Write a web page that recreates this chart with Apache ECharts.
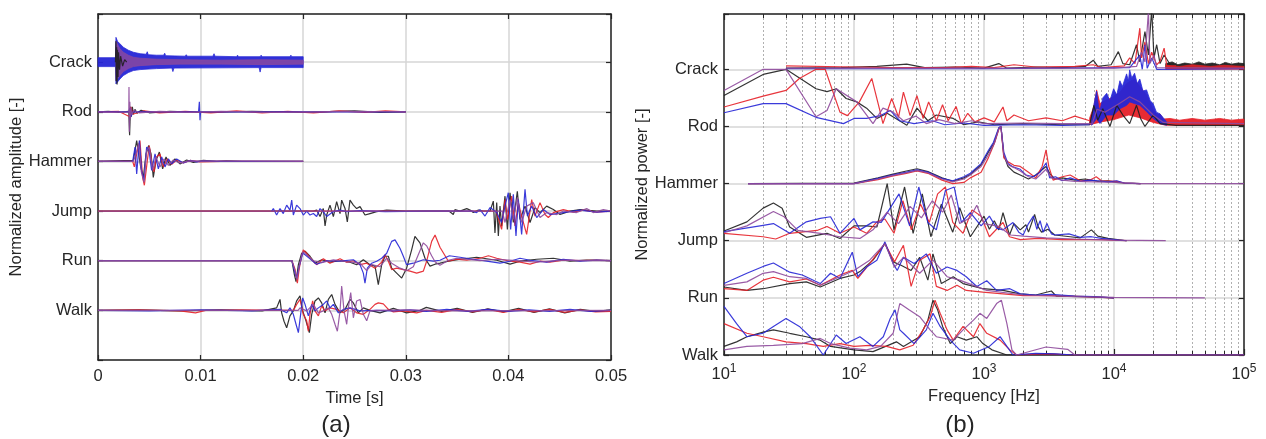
<!DOCTYPE html>
<html><head><meta charset="utf-8">
<script src="https://cdn.jsdelivr.net/npm/echarts/dist/echarts.min.js"></script>
<style>html,body{margin:0;padding:0;background:#fff}#c{width:1266px;height:439px}</style>
</head><body><div id="c"></div>
<script>
// ---------- categories & tick labels ----------
const ampCats = ['Walk','Run','Jump','Hammer','Rod','Crack'];   // left panel, baselines 1..6
const powCats = ['Walk','Run','Jump','Hammer','Rod','Crack'];   // right panel, baselines 0..5
const timeTicks = ['0','0.01','0.02','0.03','0.04','0.05'];
const freqExp = ['1','2','3','4','5'];

// ---------- (a) time signals: [time s, amplitude relative to baseline] ----------
const tCrackUp = [[0,0.09],[0.0017,0.09],[0.00175,0.5],[0.0019,0.42],[0.00214,0.37],[0.00247,0.3],[0.00296,0.24],[0.00344,0.2],[0.0041,0.17],[0.0047,0.16],[0.0048,0.21],[0.0049,0.15],[0.0057,0.14],[0.0064,0.14],[0.0065,0.18],[0.0066,0.13],[0.0085,0.12],[0.0086,0.15],[0.0087,0.12],[0.0112,0.12],[0.01131,0.17],[0.0114,0.12],[0.0135,0.11],[0.0136,0.14],[0.0137,0.11],[0.0158,0.11],[0.0159,0.14],[0.016,0.11],[0.0187,0.11],[0.0188,0.14],[0.0189,0.11],[0.02,0.11]];
const tCrackLo = [[0,-0.09],[0.0017,-0.09],[0.00175,-0.44],[0.0019,-0.4],[0.00214,-0.34],[0.00247,-0.27],[0.00296,-0.21],[0.00344,-0.17],[0.0041,-0.15],[0.0057,-0.13],[0.0072,-0.12],[0.0073,-0.19],[0.0074,-0.12],[0.0157,-0.11],[0.0158,-0.2],[0.0159,-0.11],[0.02,-0.11]];
const tCrackInUp = [[0.00175,0.42],[0.00214,0.27],[0.00247,0.2],[0.00296,0.14],[0.00344,0.1],[0.0041,0.08],[0.0057,0.06],[0.008,0.05],[0.012,0.04],[0.016,0.05],[0.02,0.04]];
const tCrackInLo = [[0.00175,-0.38],[0.00214,-0.27],[0.00247,-0.19],[0.00296,-0.13],[0.00344,-0.09],[0.0041,-0.07],[0.0057,-0.05],[0.008,-0.04],[0.012,-0.04],[0.016,-0.05],[0.02,-0.04]];
const tCrackBlack = [[0.0017,0],[0.00175,0.42],[0.00178,-0.38],[0.00182,0.3],[0.00186,-0.45],[0.0019,0.25],[0.00195,-0.3],[0.002,0.2],[0.0021,-0.15],[0.0022,0.12],[0.0024,-0.08],[0.0026,0.05],[0.0028,0]];

const tRodBlack = [[0,0],[0.001,0.01],[0.002,-0.01],[0.003,0.01],[0.00305,0.05],[0.00308,-0.47],[0.00312,-0.2],[0.00318,0.1],[0.00325,-0.1],[0.00335,0.1],[0.00345,-0.05],[0.0036,0.05],[0.0038,-0.03],[0.0042,0.03],[0.005,-0.02],[0.007,0.01],[0.01,-0.01],[0.015,0.01],[0.02,-0.01],[0.025,0.02],[0.0275,-0.01],[0.03,0]];
const tRodRed = [[0,0],[0.002,0.01],[0.0031,-0.1],[0.0032,0.1],[0.0034,-0.05],[0.0045,0.02],[0.006,-0.02],[0.0085,0.01],[0.011,-0.02],[0.0135,0.02],[0.016,-0.02],[0.0185,0.01],[0.021,-0.02],[0.0235,0.02],[0.026,-0.01],[0.028,0.02],[0.03,0]];
const tRodBlue = [[0,0],[0.003,0],[0.0031,0.08],[0.0032,-0.1],[0.0034,0],[0.0098,0],[0.00988,0.2],[0.00994,-0.17],[0.01,0],[0.03,0]];
const tRodPurple = [[0,0],[0.0015,-0.01],[0.003,0],[0.00302,0.5],[0.00306,-0.4],[0.0031,0.2],[0.00316,-0.15],[0.00322,0.08],[0.0033,-0.06],[0.0035,0.03],[0.004,-0.02],[0.006,0.01],[0.009,-0.01],[0.012,0.01],[0.018,-0.01],[0.024,0.01],[0.03,0]];

const tHammerBlack = [[0,0],[0.00344,0.02],[0.00377,0.42],[0.00393,0.46],[0.00416,-0.11],[0.00442,-0.32],[0.00468,0.15],[0.00494,0.32],[0.00517,0.15],[0.00539,-0.32],[0.00565,0.02],[0.00598,0.19],[0.0063,-0.15],[0.00663,0.09],[0.00702,-0.08],[0.0075,0.05],[0.00799,-0.05],[0.00864,0.03],[0.00929,-0.02],[0.01027,0.02],[0.01157,0],[0.0125,0.01],[0.014,0],[0.02,0]];
const tHammerRed = [[0,0],[0.00338,0],[0.00354,-0.11],[0.00383,0.22],[0.00409,0.42],[0.00435,-0.32],[0.00452,-0.48],[0.00481,0.02],[0.005,0.32],[0.00526,-0.05],[0.00546,-0.21],[0.00572,0.09],[0.00604,0.15],[0.00637,-0.11],[0.00676,0.05],[0.00718,-0.06],[0.00767,0.03],[0.00832,-0.03],[0.00897,0.02],[0.00994,-0.01],[0.012,0],[0.02,0]];
const tHammerBlue = [[0,0],[0.00338,0],[0.00344,0],[0.00361,0.29],[0.00377,-0.25],[0.00403,0.42],[0.00425,-0.18],[0.00448,-0.38],[0.00474,0.29],[0.00497,0.22],[0.00523,-0.18],[0.00556,0.15],[0.00588,-0.15],[0.00621,0.09],[0.00653,-0.11],[0.00686,0.05],[0.00718,-0.05],[0.00767,0.05],[0.00832,-0.03],[0.00897,0.02],[0.00962,-0.01],[0.01027,0.01],[0.01157,0],[0.02,0]];
const tHammerPurple = [[0,0],[0.00344,0],[0.0037,0.15],[0.00396,0.36],[0.00422,-0.21],[0.00448,-0.42],[0.00474,0.22],[0.005,0.29],[0.00533,-0.18],[0.00565,0.09],[0.00604,-0.11],[0.00643,0.05],[0.00686,-0.08],[0.00734,0.03],[0.00799,-0.03],[0.00897,0.01],[0.02,0]];

const tJumpBlack = [[0,0],[0.021,0],[0.02131,0.02],[0.02164,-0.11],[0.02196,0.05],[0.02213,-0.3],[0.02229,-0.08],[0.02261,0.12],[0.02294,-0.11],[0.02326,0.19],[0.02359,-0.05],[0.02375,0.22],[0.02408,0.05],[0.0243,-0.22],[0.02456,0.22],[0.02489,0.12],[0.02521,0.05],[0.02554,0.09],[0.02602,-0.08],[0.02651,-0.05],[0.02716,-0.01],[0.02814,0.02],[0.03,0],[0.0342,0],[0.03463,-0.07],[0.03479,0.03],[0.03528,0],[0.03594,0.05],[0.03626,0.02],[0.03658,-0.03],[0.03707,0.02],[0.03756,0],[0.03821,0],[0.03853,0.2],[0.03869,-0.44],[0.03886,0.17],[0.03902,-0.5],[0.03918,0.1],[0.03934,-0.3],[0.03967,0.3],[0.0399,-0.37],[0.04016,0.37],[0.04048,-0.23],[0.04087,0.4],[0.04113,-0.17],[0.04162,0.1],[0.04211,-0.23],[0.04259,0.07],[0.04308,-0.03],[0.04373,0.1],[0.04438,0.03],[0.04503,-0.07],[0.046,0],[0.04698,0.03],[0.0486,0],[0.05,0]];
const tJumpRed = [[0,0],[0.0388,0],[0.03886,-0.03],[0.03934,-0.37],[0.03967,0.23],[0.0399,-0.17],[0.04032,0.3],[0.04064,-0.3],[0.04097,0.17],[0.04129,-0.1],[0.04178,-0.47],[0.04227,0.23],[0.04259,-0.1],[0.04308,0.17],[0.04357,-0.07],[0.04389,-0.13],[0.04438,-0.03],[0.04535,0.03],[0.04633,-0.02],[0.0473,0.02],[0.0486,-0.02],[0.05,0]];
const tJumpBlue = [[0.01693,0],[0.01709,0.05],[0.01741,-0.08],[0.01774,0.05],[0.01806,-0.05],[0.01839,0.12],[0.01871,0.02],[0.01888,0.22],[0.01904,-0.08],[0.01936,0.12],[0.01969,0.05],[0.02001,-0.08],[0.02034,0],[0.02066,-0.08],[0.02099,-0.05],[0.02131,-0.11],[0.02164,0.05],[0.02196,-0.01],[0.02229,-0.11],[0.02294,-0.01],[0.02359,0.02],[0.02424,-0.01],[0.0255,0.01],[0.028,-0.01],[0.032,0],[0.0365,0],[0.0369,-0.03],[0.03723,0.03],[0.03772,-0.1],[0.03821,0.07],[0.03886,-0.03],[0.03934,-0.23],[0.03967,0.1],[0.03999,0.37],[0.04022,-0.37],[0.04048,0.34],[0.04074,-0.5],[0.04097,0.23],[0.04129,-0.47],[0.04162,0.44],[0.04185,-0.1],[0.04227,0.1],[0.04276,-0.13],[0.04341,0.03],[0.04405,-0.07],[0.04535,-0.03],[0.04698,0.02],[0.0486,-0.02],[0.05,0]];
const tJumpPurple = [[0,0],[0.0394,0],[0.03967,-0.23],[0.04016,0.23],[0.04048,-0.17],[0.04087,0.27],[0.04129,-0.23],[0.04178,0.1],[0.04243,0.17],[0.04308,-0.13],[0.04373,-0.03],[0.0447,-0.07],[0.04535,0],[0.04665,-0.03],[0.04763,0.05],[0.04828,-0.03],[0.04925,0.03],[0.05,0]];

const tRunBlack = [[0,0],[0.0189,0],[0.01904,-0.01],[0.01914,-0.28],[0.0193,-0.42],[0.01953,-0.08],[0.01985,0.15],[0.02018,0.19],[0.02066,0.09],[0.02115,-0.05],[0.0218,0.02],[0.02261,-0.03],[0.02359,0],[0.02456,-0.03],[0.02521,-0.08],[0.02586,0.02],[0.02651,-0.08],[0.027,-0.11],[0.02732,-0.48],[0.02765,-0.08],[0.02797,0.09],[0.0283,0.09],[0.02862,-0.15],[0.02911,-0.25],[0.0296,-0.35],[0.03008,-0.15],[0.03057,0.22],[0.03089,0.49],[0.03138,0.36],[0.03187,0.05],[0.03236,-0.11],[0.03285,-0.07],[0.03333,-0.05],[0.03415,-0.01],[0.0353,0.03],[0.0369,0.07],[0.03886,0.01],[0.04016,-0.07],[0.04113,-0.01],[0.04276,0.03],[0.04438,0.05],[0.046,-0.01],[0.04763,0.01],[0.05,0]];
const tRunRed = [[0,0],[0.0189,0],[0.0192,-0.17],[0.01943,-0.45],[0.01962,-0.15],[0.01985,0.09],[0.02001,0.22],[0.02034,0.15],[0.02083,0.02],[0.02131,-0.08],[0.02196,0.04],[0.02261,-0.05],[0.02359,0.04],[0.02424,-0.03],[0.02489,0],[0.02554,-0.08],[0.02619,-0.05],[0.027,-0.15],[0.02765,-0.03],[0.02797,0.12],[0.0283,-0.01],[0.02862,-0.18],[0.02911,-0.15],[0.02976,-0.18],[0.03041,-0.21],[0.03106,-0.25],[0.03171,-0.21],[0.03203,-0.01],[0.03252,0.39],[0.03285,0.52],[0.03333,0.27],[0.03415,-0.01],[0.03496,0.03],[0.03594,0.01],[0.03723,0.05],[0.03805,0.1],[0.03886,0.05],[0.04016,-0.01],[0.04113,-0.03],[0.04211,-0.07],[0.04308,-0.01],[0.04405,-0.03],[0.04535,0.01],[0.04698,0],[0.0486,0.01],[0.05,0]];
const tRunBlue = [[0,0],[0.0189,0],[0.0192,-0.25],[0.01936,-0.35],[0.01962,-0.11],[0.01995,0.15],[0.02018,0.12],[0.02066,0.04],[0.02131,-0.07],[0.02229,0],[0.02359,-0.01],[0.02489,0.02],[0.02554,-0.08],[0.02586,-0.25],[0.02602,-0.45],[0.02625,-0.15],[0.02667,-0.05],[0.02716,-0.01],[0.02765,0.05],[0.02814,0.15],[0.02862,0.39],[0.02895,0.42],[0.02943,0.25],[0.02976,0.09],[0.03008,-0.08],[0.03073,-0.05],[0.03171,0.02],[0.03268,-0.01],[0.03333,0.01],[0.03425,0.1],[0.03528,0.07],[0.03658,0.03],[0.03788,-0.01],[0.03918,-0.05],[0.04016,-0.01],[0.04113,0.05],[0.04211,0.01],[0.04373,-0.03],[0.04535,0.03],[0.04698,-0.01],[0.0486,0.01],[0.05,0]];
const tRunPurple = [[0,0],[0.0189,0],[0.0192,-0.2],[0.0194,-0.38],[0.01962,-0.1],[0.01995,0.18],[0.02034,0.12],[0.02099,0],[0.0218,-0.04],[0.02294,0.02],[0.02424,-0.02],[0.02554,-0.05],[0.02619,-0.2],[0.02667,-0.08],[0.02749,-0.12],[0.02814,0.05],[0.02862,-0.05],[0.02943,-0.15],[0.03008,-0.2],[0.03073,-0.12],[0.03138,0.2],[0.03171,0.36],[0.03203,0.3],[0.03252,0.1],[0.03285,-0.02],[0.03333,-0.09],[0.03415,0.01],[0.03496,0.05],[0.03723,0],[0.03886,0.03],[0.04081,0],[0.04276,-0.03],[0.04535,0.01],[0.04795,0],[0.05,0]];

const tWalkBlack = [[0,0],[0.004,0.01],[0.008,-0.01],[0.012,0.01],[0.016,-0.01],[0.01741,0.05],[0.01774,0.22],[0.0179,-0.05],[0.01813,-0.22],[0.01839,-0.35],[0.01871,-0.11],[0.01904,-0.01],[0.01936,0.19],[0.01969,0.29],[0.01995,-0.01],[0.02027,-0.21],[0.0206,-0.45],[0.02083,-0.08],[0.02115,0.19],[0.02148,0.25],[0.0218,0.15],[0.02213,-0.05],[0.02245,0.22],[0.02278,0.32],[0.0231,0.12],[0.02359,-0.05],[0.02408,0.02],[0.02456,0.22],[0.02489,0.15],[0.02537,-0.05],[0.02586,0.05],[0.02651,0],[0.02749,-0.05],[0.02879,0.04],[0.03008,-0.05],[0.03138,0],[0.032,0.06],[0.0335,-0.02],[0.035,0.04],[0.0365,-0.04],[0.038,0.03],[0.0395,-0.03],[0.041,0.04],[0.0425,-0.04],[0.044,0.03],[0.0455,-0.05],[0.047,0.02],[0.0485,-0.02],[0.05,0.01]];
const tWalkRed = [[0,0],[0.004,0.01],[0.008,-0.01],[0.0095,-0.05],[0.0105,0],[0.014,0.01],[0.01904,0],[0.01936,0.12],[0.01969,0.22],[0.02001,-0.08],[0.02034,-0.21],[0.0205,-0.42],[0.02066,-0.08],[0.02092,0.19],[0.02115,-0.01],[0.02148,-0.11],[0.0218,0.09],[0.02213,-0.01],[0.02261,0.05],[0.02326,0.02],[0.02391,-0.05],[0.02456,0.05],[0.02521,-0.05],[0.02586,-0.08],[0.02651,0.02],[0.027,0.12],[0.02732,0.15],[0.02781,0.13],[0.0283,0.02],[0.02879,-0.03],[0.02976,-0.01],[0.03106,-0.05],[0.032,0],[0.0335,-0.04],[0.035,0.02],[0.0365,-0.03],[0.038,0.02],[0.0395,-0.04],[0.041,0.02],[0.0425,-0.03],[0.044,0.02],[0.0455,-0.04],[0.047,0.01],[0.0485,-0.03],[0.05,-0.02]];
const tWalkBlue = [[0,0],[0.005,-0.01],[0.01,0.01],[0.015,-0.01],[0.01774,0.02],[0.01839,-0.05],[0.01871,0.05],[0.01904,-0.08],[0.0193,-0.28],[0.01953,-0.45],[0.01975,-0.08],[0.01995,0.25],[0.02018,0.12],[0.0205,-0.11],[0.02083,0.12],[0.02115,-0.01],[0.02148,0.05],[0.02196,0.12],[0.02229,0.19],[0.02261,0.05],[0.02294,0.12],[0.02343,-0.05],[0.02391,0.02],[0.02456,0.05],[0.02554,-0.01],[0.02716,0],[0.02879,-0.01],[0.03041,0.01],[0.032,-0.02],[0.034,0.02],[0.036,-0.02],[0.038,0.02],[0.04,-0.02],[0.042,0.01],[0.044,-0.02],[0.046,0.02],[0.048,-0.02],[0.05,0]];
const tWalkPurple = [[0,0],[0.0195,0],[0.01969,0.05],[0.02034,-0.01],[0.02099,0.12],[0.02148,-0.05],[0.02196,-0.01],[0.02245,0.05],[0.02278,-0.08],[0.0231,-0.28],[0.02333,-0.42],[0.02359,-0.01],[0.02375,0.49],[0.02398,-0.01],[0.02424,-0.28],[0.0244,0.05],[0.02463,0.36],[0.02489,-0.15],[0.02521,0.19],[0.02554,0.22],[0.02586,-0.08],[0.02619,-0.21],[0.02651,-0.01],[0.02716,0],[0.03,0.01],[0.035,-0.01],[0.05,0]];

// ---------- (b) spectra: [frequency Hz, normalized power relative to baseline] ----------
const fCrackBlack = [[30,0.02],[80,0.03],[150,0.05],[254,0.09],[350,0.03],[600,0.04],[1000,0.02],[1300,0.1],[1500,0.02],[2500,0.04],[4000,0.03],[6000,0.05],[6930,0.16],[7500,0.05],[9500,0.08],[10800,0.31],[11700,0.1],[13200,0.08],[14900,0.43],[15800,0.13],[17300,0.66],[18400,0.25],[19500,1.05],[20300,0.2],[21300,0.43],[22600,0.1],[24300,0.25],[27100,0.08]];
const fCrackRed = [[30,0.06],[100,0.04],[200,0.03],[500,0.03],[800,0.05],[1200,0.03],[1700,0.08],[2500,0.04],[5000,0.05],[6930,0.08],[8000,0.03],[12000,0.06],[13200,0.2],[14500,0.1],[15800,0.72],[16300,0.2],[17300,0.48],[18400,0.1],[19500,0.3],[21300,0.08],[22600,0.14],[24300,0.37],[25500,0.05],[30000,0.06]];
const fCrackBlue = [[30,0.01],[1000,0.01],[13200,0.03],[15800,0.25],[16500,0],[17300,0.43],[18000,0.02],[19500,0.2],[21300,0],[100000,0.01]];
const fCrackPurple = [[30,0.02],[1000,0.02],[10000,0.02],[14900,0.05],[16300,0.3],[17300,0.13],[18400,1.02],[18900,0.1],[20300,0.25],[21300,0.03],[100000,0.02]];
const fCrackBlackUp = [[25000,0.1],[28000,0.13],[31000,0.08],[35000,0.11],[40000,0.09],[45000,0.13],[50000,0.09],[57000,0.11],[65000,0.08],[72000,0.12],[80000,0.09],[90000,0.11],[100000,0.1]];
const fCrackBlackLo = [[25000,0.02],[100000,0.02]];
const fCrackRedUp = [[25000,0.07],[32000,0.05],[40000,0.08],[55000,0.05],[70000,0.07],[100000,0.05]];
const fCrackRedLo = [[25000,0],[100000,0]];

const fRodBlack = [[10,0.54],[20,0.91],[30,1.0],[51,0.66],[62,0.61],[73,0.66],[87,0.49],[105,0.43],[125,0.32],[150,0.14],[180,0.23],[255,0.02],[305,0.32],[370,0.1],[430,0.2],[580,0.14],[700,0.03],[900,0.08],[1200,0.03],[2000,0.05],[4000,0.03],[6500,0.03],[7000,0.37],[7500,0.11],[8200,0.31],[9300,0],[10500,0.37],[11700,0.2],[13200,0.05],[14900,0.37],[16000,0.14],[17300,0],[20000,0.2],[22600,0.05],[30000,0.02],[100000,0.02]];
const fRodRed = [[10,0.34],[20,0.53],[30,0.63],[38,0.84],[51,1.0],[60,1.0],[78,0.25],[89,0.19],[110,0.43],[137,0.84],[158,0.28],[167,0.05],[195,0.49],[220,0.16],[240,0.6],[270,0.19],[305,0.54],[340,0.14],[375,0.43],[430,0.1],[480,0.38],[530,0.1],[610,0.35],[670,0.05],[750,0.23],[850,0.08],[1000,0.15],[1200,0.08],[1400,0.34],[1500,0.1],[1700,0.2],[2200,0.1],[3000,0.15],[4000,0.1],[5000,0.18],[6500,0.1]];
const fRodBlue = [[10,0.24],[20,0.4],[30,0.4],[51,0.16],[83,0.05],[100,0.14],[125,0.14],[160,0.19],[190,0.28],[225,0.1],[290,0.05],[400,0.1],[500,0.03],[700,0.06],[1000,0.02],[2000,0.03],[4000,0.02],[6500,0.03]];
const fRodPurple = [[10,0.63],[20,1.0],[30,1.0],[51,0.17],[62,0.28],[73,0.66],[105,0.43],[140,0.05],[167,0.32],[200,0.25],[240,0.1],[300,0.18],[360,0.05],[450,0.12],[600,0.05],[800,0.1],[1000,0.05],[2000,0.06],[4000,0.05],[6800,0.05],[7400,0.3],[8500,0.25],[11000,0.4],[13200,0.52],[15800,0.43],[20000,0.2],[24000,0.07],[100000,0.05]];
const fRodBlueUp = [[6730,0.14],[7100,0.45],[7350,0.62],[7600,0.35],[7800,0.28],[8200,0.5],[8790,0.58],[9300,0.45],[9930,0.66],[10500,0.55],[11100,0.8],[11600,0.7],[12500,0.92],[12900,0.8],[13200,0.99],[13700,0.85],[14400,0.93],[15100,0.75],[15800,0.83],[16700,0.62],[17800,0.64],[19000,0.45],[20000,0.4],[21200,0.25],[22600,0.22],[25400,0.08]];
const fRodBlueLo = [[6730,0.02],[7350,0.14],[7800,0.05],[8790,0.2],[9930,0.2],[11100,0.31],[12500,0.37],[13200,0.43],[14400,0.4],[15800,0.37],[17800,0.26],[20000,0.14],[22600,0.05],[25400,0.02]];
const fRodRedUp = [[6500,0.15],[7000,0.35],[7350,0.64],[7800,0.4],[8500,0.45],[9500,0.5],[11100,0.6],[12500,0.75],[13500,0.8],[14400,0.82],[15800,0.7],[17800,0.55],[20000,0.3],[21500,0.2],[22600,0.22],[24000,0.13],[27000,0.14],[32000,0.11],[40000,0.14],[50000,0.11],[65000,0.14],[80000,0.11],[100000,0.13]];
const fRodRedLo = [[6500,0.03],[8000,0.08],[10000,0.12],[13000,0.2],[16000,0.15],[20000,0.07],[25000,0.02],[100000,0.02]];

const fHammerBlack = [[15.3,0],[100,0.01],[153,0.1],[196,0.16],[253,0.22],[305,0.26],[370,0.21],[475,0.1],[575,0.04],[700,0.1],[785,0.16],[950,0.33],[1080,0.55],[1200,0.72],[1300,0.97],[1350,1.0],[1420,0.5],[1530,0.3],[1700,0.2],[1900,0.15],[2200,0.08],[2500,0.15],[3000,0.3],[3200,0.18],[3500,0.08],[4000,0.1],[5000,0.06],[6000,0.08],[7500,0.04],[9000,0.05],[10500,0.02],[12000,0.01],[16000,0]];
const fHammerRed = [[15.3,0],[100,0],[153,0.07],[196,0.13],[253,0.18],[305,0.22],[370,0.18],[475,0.06],[575,0],[700,0.02],[785,0.1],[950,0.2],[1080,0.45],[1200,0.7],[1300,0.95],[1350,1.0],[1420,0.45],[1530,0.38],[1700,0.32],[1900,0.3],[2200,0.2],[2500,0.1],[2800,0.3],[3000,0.59],[3150,0.3],[3400,0.06],[4000,0.12],[4600,0.15],[5500,0.05],[6500,0.06],[7300,0.12],[8000,0.05],[10500,0.04],[12000,0.01],[16000,0]];
const fHammerBlue = [[15.3,0],[100,0],[153,0.09],[196,0.15],[253,0.2],[305,0.24],[370,0.2],[475,0.09],[575,0.05],[700,0.12],[785,0.18],[950,0.35],[1080,0.58],[1180,0.72],[1300,0.98],[1350,1.0],[1420,0.55],[1530,0.35],[1650,0.3],[1900,0.25],[2100,0.15],[2400,0.12],[2700,0.2],[3000,0.36],[3200,0.1],[3550,0.12],[4000,0.05],[4600,0.1],[5500,0.04],[6500,0.06],[7500,0.05],[9000,0.03],[10500,0.05],[12000,0.01],[16000,0]];
const fHammerPurple = [[15.3,0],[100,0],[153,0.08],[196,0.14],[253,0.19],[305,0.23],[370,0.19],[475,0.08],[575,0.03],[700,0.08],[785,0.15],[950,0.3],[1080,0.5],[1200,0.7],[1300,0.96],[1350,1.0],[1420,0.5],[1530,0.33],[1700,0.28],[1900,0.22],[2200,0.12],[2500,0.08],[3000,0.25],[3300,0.1],[4000,0.06],[5000,0.04],[7000,0.03],[10000,0.02],[15000,0],[100000,0]];

const fJumpBlack = [[10,0.17],[15,0.33],[20,0.57],[24,0.66],[28,0.57],[32,0.24],[43,0.06],[62,0.13],[78,0.04],[100,0.26],[125,0.26],[150,0.24],[180,1.0],[203,0.19],[245,0.94],[285,0.13],[335,0.82],[390,0.07],[470,0.64],[575,0.15],[650,0.58],[785,0.07],[1000,0.43],[1100,0.2],[1200,0.35],[1300,0.19],[1400,0.49],[1570,0.1],[1700,0.3],[1900,0.19],[2100,0.28],[2200,0.15],[2450,0.46],[2600,0.25],[2770,0.15],[3100,0.2],[3500,0.1],[4600,0.07],[5500,0.05],[6700,0.19],[7500,0.08],[9000,0.04],[12500,0]];
const fJumpRed = [[10,0.13],[20,0.07],[25,0.03],[32,0.13],[52,0.18],[62,0.25],[78,0.13],[100,0.24],[125,0.13],[150,0.33],[173,0.38],[203,0.13],[238,0.7],[276,0.19],[325,0.64],[380,0.32],[440,0.82],[505,0.94],[575,0.32],[690,0.13],[810,0.54],[950,0.43],[1100,0.07],[1400,0.32],[1570,0.07],[1900,0.02],[2600,0.04],[4000,0.02],[8000,0.02],[12500,0]];
const fJumpBlue = [[10,0.16],[20,0.27],[24,0.3],[32,0.13],[43,0.33],[55,0.39],[66,0.42],[78,0.13],[100,0.39],[111,0.19],[140,0.33],[162,0.32],[222,0.82],[268,0.26],[315,0.94],[370,0.32],[430,0.19],[505,0.88],[590,0.94],[670,0.32],[785,0.49],[950,0.26],[1100,0.43],[1250,0.22],[1400,0.19],[1670,0.32],[1850,0.15],[2000,0.1],[2200,0.3],[2400,0.43],[2550,0.2],[2700,0.35],[2850,0.15],[3050,0.3],[3300,0.12],[3500,0.1],[4500,0.12],[5500,0.06],[6700,0.07],[8000,0.04],[11000,0.01],[12500,0]];
const fJumpPurple = [[10,0.14],[15,0.26],[24,0.51],[29,0.42],[37,0.18],[55,0.13],[78,0.07],[111,0.04],[140,0.19],[180,0.5],[220,0.3],[270,0.6],[330,0.4],[400,0.7],[480,0.5],[560,0.8],[650,0.3],[780,0.4],[880,0.62],[1000,0.3],[1300,0.25],[1600,0.1],[2000,0.08],[3000,0.05],[5000,0.03],[10000,0.01],[25000,0]];

const fRunBlack = [[10,0.19],[15,0.13],[20,0.16],[32,0.25],[43,0.28],[55,0.19],[78,0.34],[100,0.4],[111,0.46],[140,0.66],[173,0.95],[200,0.63],[230,0.57],[275,0.48],[320,0.71],[370,0.31],[405,0.77],[470,0.25],[580,0.37],[690,0.25],[980,0.16],[1400,0.13],[1900,0.07],[2500,0.05],[3300,0.12],[3600,0.03],[6000,0.02],[10000,0]];
const fRunRed = [[10,0.16],[15,0.13],[20,0.31],[24,0.36],[32,0.28],[43,0.33],[55,0.22],[78,0.4],[97,0.48],[107,0.34],[132,0.6],[173,0.95],[205,0.63],[240,0.92],[275,0.2],[320,0.66],[385,0.77],[430,0.2],[520,0.13],[620,0.22],[730,0.13],[980,0.1],[1400,0.07],[2000,0.04],[3300,0.04],[6000,0.02],[10000,0]];
const fRunBlue = [[10,0.25],[15,0.43],[20,0.55],[24,0.61],[32,0.45],[40,0.4],[55,0.25],[66,0.43],[78,0.34],[97,0.8],[107,0.37],[125,0.54],[150,0.66],[173,0.98],[200,0.6],[215,0.48],[240,0.71],[290,0.6],[360,0.77],[430,0.43],[520,0.54],[620,0.48],[730,0.37],[880,0.2],[1050,0.3],[1250,0.13],[1580,0.16],[1900,0.07],[2500,0.05],[3300,0.06],[5000,0.03],[7000,0.02],[10000,0]];
const fRunPurple = [[10,0.22],[15,0.28],[20,0.43],[24,0.46],[32,0.37],[43,0.34],[55,0.22],[78,0.37],[100,0.48],[132,0.66],[173,0.95],[205,0.54],[240,0.71],[320,0.43],[405,0.66],[520,0.37],[650,0.31],[1050,0.13],[2000,0.05],[5000,0.02],[10000,0.01],[50000,0]];

const fWalkBlack = [[10,0.15],[12.5,0.23],[15,0.32],[20,0.4],[24,0.44],[32,0.38],[43,0.32],[55,0.26],[66,0.15],[100,0.09],[140,0.06],[212,0.23],[240,0.15],[320,0.32],[370,0.61],[405,0.96],[440,0.79],[480,0.5],[550,0.2],[620,0.32],[730,0.26],[880,0.32],[980,0.2],[1150,0.09],[1500,0],[3000,0.02],[5000,0],[100000,0]];
const fWalkRed = [[10,0.55],[15,0.38],[20,0.32],[30,0.23],[43,0.2],[58,0.15],[78,0.2],[100,0.15],[132,0.17],[178,0.15],[225,0.09],[285,0.17],[340,0.44],[385,0.67],[420,0.96],[460,0.73],[520,0.44],[580,0.26],[690,0.5],[830,0.32],[930,0.55],[1050,0.38],[1330,0.26],[1580,0.09],[1780,0],[3000,0.02],[5000,0],[100000,0]];
const fWalkBlue = [[10,0.85],[12.5,0.55],[15,0.32],[20,0.38],[24,0.5],[30,0.64],[38,0.5],[46,0.32],[58,0],[73,0.35],[87,0.2],[111,0.32],[140,0.15],[168,0.32],[190,0.64],[207,0.79],[225,0.44],[240,0.38],[290,0.2],[360,0.44],[405,0.73],[460,0.5],[550,0.26],[650,0.09],[830,0.03],[1100,0.15],[1330,0.32],[1500,0.15],[1670,0],[2500,0.03],[3500,0.02],[5000,0],[100000,0]];
const fWalkPurple = [[10,0.09],[15,0.15],[24,0.17],[40,0.2],[55,0.29],[66,0.2],[93,0.12],[125,0.09],[160,0.15],[200,0.38],[225,0.9],[265,0.79],[320,0.67],[385,0.44],[430,0.32],[580,0.26],[690,0.44],[830,0.61],[930,0.73],[1050,0.64],[1250,0.9],[1360,0.96],[1500,0.55],[1640,0.09],[1780,0],[3000,0.14],[4400,0.1],[5000,0],[100000,0]];

// ---------- styling ----------
const COL = {black:'#1e1e1e', red:'#e62028', blue:'#2626d6', purple:'#8e4a9c'};
const TXT = '#262626', FRAME = '#262626', GRID = '#d6d6d6';
const FONT = 'Liberation Sans, Arial, sans-serif';
const FS = 16.5;

const series = [];
function line(panel, pts, base, color, z) {
  series.push({type:'line', xAxisIndex: panel*2, yAxisIndex: panel*2, showSymbol:false, symbol:'none',
    data: pts.map(p => [p[0], base + p[1]]), lineStyle:{color: color, width: 1.2, opacity: 0.9},
    silent:true, animation:false, z: z || 3, clip: true});
}
function band(panel, up, lo, base, color, op, z) {
  series.push({type:'custom', xAxisIndex: panel*2, yAxisIndex: panel*2, silent:true, animation:false, z: z || 3,
    data: [[up[0][0], base]],
    renderItem: function(params, api) {
      if (params.dataIndex !== 0) return null;
      const pts = [];
      up.forEach(p => pts.push(api.coord([p[0], base + p[1]])));
      for (let i = lo.length - 1; i >= 0; i--) pts.push(api.coord([lo[i][0], base + lo[i][1]]));
      return {type:'polygon', shape:{points: pts}, style:{fill: color, stroke: color, lineWidth: 0.8, opacity: op}};
    }});
}

// panel (a)
const A = 0;
band(A, tCrackUp, tCrackLo, 6, COL.blue, 0.95);
band(A, tCrackInUp, tCrackInLo, 6, COL.purple, 0.8);
line(A, tCrackBlack, 6, COL.black);
[[tRodBlack,COL.black],[tRodRed,COL.red],[tRodBlue,COL.blue],[tRodPurple,COL.purple]].forEach(s => line(A, s[0], 5, s[1]));
[[tHammerBlack,COL.black],[tHammerRed,COL.red],[tHammerBlue,COL.blue],[tHammerPurple,COL.purple]].forEach(s => line(A, s[0], 4, s[1]));
[[tJumpBlack,COL.black],[tJumpRed,COL.red],[tJumpBlue,COL.blue],[tJumpPurple,COL.purple]].forEach(s => line(A, s[0], 3, s[1]));
[[tRunBlack,COL.black],[tRunRed,COL.red],[tRunBlue,COL.blue],[tRunPurple,COL.purple]].forEach(s => line(A, s[0], 2, s[1]));
[[tWalkBlack,COL.black],[tWalkRed,COL.red],[tWalkBlue,COL.blue],[tWalkPurple,COL.purple]].forEach(s => line(A, s[0], 1, s[1]));

// panel (b)
const B = 1;
band(B, fCrackBlackUp, fCrackBlackLo, 5, COL.black, 0.95);
band(B, fCrackRedUp, fCrackRedLo, 5, COL.red, 0.85);
[[fCrackBlack,COL.black],[fCrackRed,COL.red],[fCrackBlue,COL.blue],[fCrackPurple,COL.purple]].forEach(s => line(B, s[0], 5, s[1]));
band(B, fRodRedUp, fRodRedLo, 4, COL.red, 0.95);
band(B, fRodBlueUp, fRodBlueLo, 4, COL.blue, 0.95);
[[fRodBlack,COL.black],[fRodRed,COL.red],[fRodBlue,COL.blue],[fRodPurple,COL.purple]].forEach(s => line(B, s[0], 4, s[1]));
[[fHammerBlack,COL.black],[fHammerRed,COL.red],[fHammerBlue,COL.blue],[fHammerPurple,COL.purple]].forEach(s => line(B, s[0], 3, s[1]));
[[fJumpBlack,COL.black],[fJumpRed,COL.red],[fJumpBlue,COL.blue],[fJumpPurple,COL.purple]].forEach(s => line(B, s[0], 2, s[1]));
[[fRunBlack,COL.black],[fRunRed,COL.red],[fRunBlue,COL.blue],[fRunPurple,COL.purple]].forEach(s => line(B, s[0], 1, s[1]));
[[fWalkBlack,COL.black],[fWalkRed,COL.red],[fWalkBlue,COL.blue],[fWalkPurple,COL.purple]].forEach(s => line(B, s[0], 0, s[1]));

const axLine = {show:true, onZero:false, lineStyle:{color: FRAME, width: 1.5}};
const tick = {show:true, inside:true, length:5, lineStyle:{color: FRAME, width: 1.2}};
const lab = {color: TXT, fontFamily: FONT, fontSize: FS};

const option = {
  animation: false,
  backgroundColor: '#fff',
  textStyle: {fontFamily: FONT},
  grid: [
    {left: 98, top: 14, width: 513, height: 346},
    {left: 724, top: 14, width: 520, height: 341}
  ],
  xAxis: [
    {type:'value', gridIndex:0, min:0, max:0.05, interval:0.01, axisLine: axLine, axisTick: tick,
     axisLabel: Object.assign({margin: 8, formatter: v => timeTicks[Math.round(v / 0.01)] || ''}, lab),
     splitLine: {show:true, lineStyle:{color: GRID, width: 1.5}},
     name: 'Time [s]', nameLocation:'middle', nameGap: 28, nameTextStyle: Object.assign({}, lab)},
    {type:'value', gridIndex:0, position:'top', min:0, max:0.05, interval:0.01, axisLine: axLine, axisTick: tick,
     axisLabel:{show:false}, splitLine:{show:false}},
    {type:'log', logBase:10, gridIndex:1, min:10, max:100000, axisLine: axLine,
     axisTick: {show:true, inside:true, length:6, lineStyle:{color: FRAME, width: 1.2}},
     minorTick: {show:true, splitNumber: 9, length: 4, lineStyle:{color: FRAME, width: 1}},
     axisLabel: {margin: 8, color: TXT, fontFamily: FONT,
       formatter: v => '{b|10}{s|' + (freqExp[Math.round(Math.log10(v)) - 1] || '') + '}',
       rich: {b:{fontSize: FS, fontFamily: FONT, color: TXT, lineHeight: 20, verticalAlign:'bottom'},
              s:{fontSize: 12, fontFamily: FONT, color: TXT, lineHeight: 12, verticalAlign:'top'}}},
     splitLine: {show:true, lineStyle:{color: GRID, width: 1.5}},
     minorSplitLine: {show:true, lineStyle:{color:'#b0b0b0', width: 1, type:[2,2]}},
     name: 'Frequency [Hz]', nameLocation:'middle', nameGap: 33, nameTextStyle: Object.assign({}, lab)},
    {type:'log', logBase:10, gridIndex:1, position:'top', min:10, max:100000, axisLine: axLine,
     axisTick: {show:true, inside:true, length:6, lineStyle:{color: FRAME, width: 1.2}},
     minorTick: {show:true, splitNumber: 9, length: 4, lineStyle:{color: FRAME, width: 1}},
     axisLabel:{show:false}, splitLine:{show:false}}
  ],
  yAxis: [
    {type:'value', gridIndex:0, min:0, max:6.97, interval:1, axisLine: axLine, axisTick: tick,
     axisLabel: Object.assign({margin: 6, formatter: v => (Number.isInteger(v) && v >= 1 ? ampCats[v - 1] : '') || ''}, lab),
     splitLine: {show:true, lineStyle:{color: GRID, width: 1.5}},
     name: 'Normalized amplitude [-]', nameLocation:'middle', nameGap: 73, nameTextStyle: Object.assign({}, lab)},
    {type:'value', gridIndex:0, position:'right', min:0, max:6.97, interval:1, axisLine: axLine, axisTick: tick,
     axisLabel:{show:false}, splitLine:{show:false}},
    {type:'value', gridIndex:1, min:0, max:5.968, interval:1, axisLine: axLine, axisTick: tick,
     axisLabel: Object.assign({margin: 6, formatter: v => (Number.isInteger(v) ? powCats[v] : '') || ''}, lab),
     splitLine: {show:true, lineStyle:{color: GRID, width: 1.5}},
     name: 'Normalized power [-]', nameLocation:'middle', nameGap: 72, nameTextStyle: Object.assign({}, lab)},
    {type:'value', gridIndex:1, position:'right', min:0, max:5.968, interval:1, axisLine: axLine, axisTick: tick,
     axisLabel:{show:false}, splitLine:{show:false}}
  ],
  graphic: [
    {type:'text', x: 336, y: 425, style:{text:'(a)', fontSize: 24, fontFamily: FONT, fill: TXT, align:'center', verticalAlign:'middle', textAlign:'center', textVerticalAlign:'middle'}},
    {type:'text', x: 960, y: 425, style:{text:'(b)', fontSize: 24, fontFamily: FONT, fill: TXT, align:'center', verticalAlign:'middle', textAlign:'center', textVerticalAlign:'middle'}}
  ],
  series: series
};

const chart = echarts.init(document.getElementById('c'), null, {renderer:'canvas'});
chart.setOption(option);
</script>
</body></html>
